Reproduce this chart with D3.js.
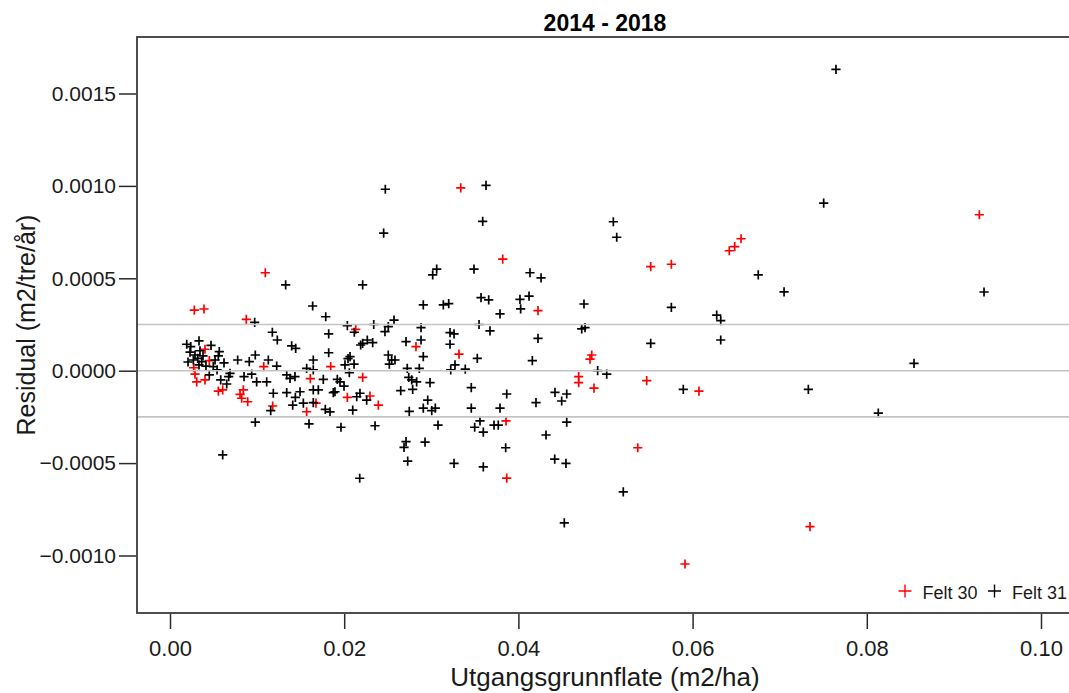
<!DOCTYPE html>
<html>
<head>
<meta charset="utf-8">
<script src="https://cdn.jsdelivr.net/npm/d3@7"></script>
<style>
  html, body { margin: 0; padding: 0; background: #fff; }
  svg { display: block; font-family: "Liberation Sans", Arial, sans-serif; }
</style>
</head>
<body>
<svg id="chart" width="1069" height="693"></svg>
<script>
// Residuals of basal-area growth per tree against initial basal area, 2014 - 2018
const title = "2014 - 2018";
const xLabel = "Utgangsgrunnflate (m2/ha)";
const yLabel = "Residual (m2/tre/år)";

const xTicks = [0.00, 0.02, 0.04, 0.06, 0.08, 0.10];
const yTicks = [-0.0010, -0.0005, 0.0000, 0.0005, 0.0010, 0.0015];
const refLines = [0.00025, 0, -0.00025];

// Felt 30 [x, residual]
const felt30 = [
  [0.00279, 0.000328], [0.00390, 0.000334], [0.01094, 0.000530], [0.00876, 0.000278],
  [0.00402, 0.000116], [0.00451, 0.000054], [0.00272, 0.000016], [0.00287, -0.000019],
  [0.00307, -0.000061], [0.00402, -0.000050], [0.01076, 0.000022], [0.01845, 0.000022],
  [0.01611, -0.000043], [0.00555, -0.000110], [0.00605, -0.000104], [0.00804, -0.000128],
  [0.00842, -0.000104], [0.00823, -0.000149], [0.00892, -0.000168], [0.01179, -0.000191],
  [0.01569, -0.000222], [0.02036, -0.000144], [0.01676, -0.000176], [0.03338, 0.000989],
  [0.03820, 0.000604], [0.04225, 0.000325], [0.02132, 0.000224], [0.02824, 0.000130],
  [0.03318, 0.000090], [0.02212, -0.000036], [0.02296, -0.000137], [0.02392, -0.000186],
  [0.03858, -0.000271], [0.03866, -0.000581], [0.06556, 0.000714], [0.06483, 0.000671],
  [0.06421, 0.000649], [0.05519, 0.000563], [0.05756, 0.000576], [0.04842, 0.000085],
  [0.04822, 0.000063], [0.04692, -0.000032], [0.04692, -0.000065], [0.04868, -0.000094],
  [0.05473, -0.000054], [0.06073, -0.000110], [0.05370, -0.000417], [0.05913, -0.001046],
  [0.07348, -0.000844], [0.09292, 0.000844]
];

// Felt 31 [x, residual]
const felt31 = [
  [0.07646, 0.001631], [0.07505, 0.000907], [0.09346, 0.000426], [0.07050, 0.000427],
  [0.06754, 0.000518], [0.08542, 0.000040], [0.07329, -0.000101], [0.08132, -0.000230],
  [0.06277, 0.000301], [0.06323, 0.000271], [0.06323, 0.000166], [0.05756, 0.000343],
  [0.05519, 0.000148], [0.05893, -0.000101], [0.05090, 0.000806], [0.05129, 0.000722],
  [0.04753, 0.000361], [0.04727, 0.000226], [0.04765, 0.000233], [0.04910, 0.000000],
  [0.05014, -0.000019], [0.04420, -0.000117], [0.04555, -0.000126], [0.04497, -0.000164],
  [0.04555, -0.000278], [0.04317, -0.000348], [0.04417, -0.000479], [0.04546, -0.000501],
  [0.05204, -0.000656], [0.04527, -0.000823], [0.04202, -0.000173], [0.04160, 0.000055],
  [0.04225, 0.000175], [0.04133, 0.000530], [0.04260, 0.000502], [0.04122, 0.000404],
  [0.04018, 0.000386], [0.04026, 0.000335], [0.03789, 0.000307], [0.03674, 0.000215],
  [0.03548, 0.000250], [0.02339, 0.000250], [0.03571, 0.000395], [0.03659, 0.000383],
  [0.03490, 0.000550], [0.03628, 0.001003], [0.03590, 0.000808], [0.02472, 0.000982],
  [0.02453, 0.000744], [0.03062, 0.000550], [0.03016, 0.000518], [0.02212, 0.000464],
  [0.02908, 0.000356], [0.03138, 0.000356], [0.03200, 0.000363], [0.02572, 0.000274],
  [0.02036, 0.000244], [0.02116, 0.000208], [0.02468, 0.000211], [0.02506, 0.000238],
  [0.02882, 0.000233], [0.02882, 0.000166], [0.02710, 0.000157], [0.02212, 0.000148],
  [0.02265, 0.000166], [0.02327, 0.000152], [0.02189, 0.000139], [0.03215, 0.000206],
  [0.03261, 0.000199], [0.03215, 0.000143], [0.02908, 0.000076], [0.02506, 0.000085],
  [0.02067, 0.000076], [0.03528, 0.000067], [0.01822, 0.000199], [0.01822, 0.000097],
  [0.02044, 0.000065], [0.01328, 0.000464], [0.01638, 0.000350], [0.01788, 0.000292],
  [0.00972, 0.000262], [0.01175, 0.000208], [0.01232, 0.000166], [0.01397, 0.000134],
  [0.01443, 0.000121], [0.02059, -0.000011], [0.02009, 0.000031], [0.02113, 0.000036],
  [0.02545, 0.000058], [0.02518, 0.000036], [0.02583, 0.000058], [0.02724, 0.000013],
  [0.02862, 0.000013], [0.03223, 0.000004], [0.03272, 0.000031], [0.03390, 0.000008],
  [0.01921, -0.000047], [0.01952, -0.000060], [0.01998, -0.000083], [0.01894, -0.000114],
  [0.01875, -0.000119], [0.02144, -0.000141], [0.02181, -0.000122], [0.02258, -0.000159],
  [0.02098, -0.000213], [0.01837, -0.000223], [0.01783, -0.000209], [0.02741, -0.000036],
  [0.02775, -0.000050], [0.02832, -0.000060], [0.02649, -0.000108], [0.02786, -0.000101],
  [0.02985, -0.000065], [0.02959, -0.000159], [0.02908, -0.000203], [0.03005, -0.000216],
  [0.03046, -0.000203], [0.02747, -0.000220], [0.03459, -0.000092], [0.03866, -0.000126],
  [0.03459, -0.000203], [0.03789, -0.000203], [0.01963, -0.000306], [0.02354, -0.000298],
  [0.03077, -0.000295], [0.03559, -0.000271], [0.03498, -0.000306], [0.03597, -0.000332],
  [0.03720, -0.000295], [0.03769, -0.000294], [0.02710, -0.000384], [0.02687, -0.000415],
  [0.02928, -0.000387], [0.03854, -0.000417], [0.02729, -0.000489], [0.03261, -0.000501],
  [0.03597, -0.000520], [0.02178, -0.000582], [0.01645, 0.000058], [0.01569, 0.000013],
  [0.01645, 0.000004], [0.01760, -0.000047], [0.01645, -0.000104], [0.01703, -0.000104],
  [0.01156, -0.000216], [0.01596, -0.000288], [0.00979, -0.000278], [0.00605, -0.000456],
  [0.01340, -0.000023], [0.01378, -0.000041], [0.01435, -0.000032], [0.01340, -0.000119],
  [0.01493, -0.000114], [0.01439, -0.000144], [0.01409, -0.000186], [0.01531, -0.000176],
  [0.01645, -0.000173], [0.01186, -0.000122], [0.00674, -0.000032], [0.00651, -0.000072],
  [0.00850, -0.000032], [0.00938, -0.000019], [0.00995, -0.000061], [0.01110, -0.000060],
  [0.00689, -0.000014], [0.00777, 0.000058], [0.00910, 0.000049], [0.00979, 0.000085],
  [0.01129, 0.000058], [0.01225, 0.000025], [0.00582, -0.000050], [0.00192, 0.000143],
  [0.00238, 0.000130], [0.00333, 0.000161], [0.00471, 0.000137], [0.00344, 0.000108],
  [0.00566, 0.000103], [0.00555, 0.000080], [0.00268, 0.000058], [0.00318, 0.000067],
  [0.00364, 0.000049], [0.00497, 0.000022], [0.00333, 0.000031], [0.00413, 0.000025],
  [0.00451, -0.000023], [0.00230, 0.000101], [0.00287, 0.000085], [0.00379, 0.000080],
  [0.00207, 0.000047], [0.00517, 0.000058], [0.00620, 0.000042], [0.00540, 0.000004]
];

const series = [
  { name: "Felt 30", color: "#ff0000", data: felt30 },
  { name: "Felt 31", color: "#000000", data: felt31 }
];

const svg = d3.select("#chart");
const frame = { left: 137, right: 1073, top: 37, bottom: 613 };

const x = d3.scaleLinear().domain([0, 0.10]).range([170, 1041]);
const y = d3.scaleLinear().domain([0, 0.001]).range([370.7, 185.9]);

const textColor = "#1a1a1a";
const plus = s => `M${-s},0H${s}M0,${-s}V${s}`;

// points, clipped to the plot frame
svg.append("clipPath").attr("id", "plotClip")
  .append("rect")
  .attr("x", frame.left).attr("y", frame.top)
  .attr("width", frame.right - frame.left).attr("height", frame.bottom - frame.top);

const pts = svg.append("g").attr("clip-path", "url(#plotClip)");
series.forEach(s => {
  pts.append("g")
    .selectAll("path")
    .data(s.data)
    .join("path")
    .attr("transform", d => `translate(${x(d[0])},${y(d[1])})`)
    .attr("d", plus(4.6))
    .attr("fill", "none")
    .attr("stroke", s.color)
    .attr("stroke-width", 1.7);
});

// reference lines at 0 and ±0.00025
svg.append("g")
  .selectAll("line")
  .data(refLines)
  .join("line")
  .attr("x1", frame.left).attr("x2", frame.right)
  .attr("y1", d => y(d)).attr("y2", d => y(d))
  .attr("stroke", "#c4c4c4")
  .attr("stroke-width", 1.6);

// frame
svg.append("rect")
  .attr("x", frame.left).attr("y", frame.top)
  .attr("width", frame.right - frame.left).attr("height", frame.bottom - frame.top)
  .attr("fill", "none")
  .attr("stroke", "#3a3a3a")
  .attr("stroke-width", 1.8);

// y axis
const yAxis = svg.append("g")
  .attr("transform", `translate(${frame.left - 1},0)`)
  .call(d3.axisLeft(y).tickValues(yTicks).tickSize(17).tickSizeOuter(0).tickPadding(3)
    .tickFormat(d3.format(".4f")));
yAxis.select(".domain").remove();
yAxis.selectAll(".tick line").attr("stroke", "#2a2a2a").attr("stroke-width", 1.5);
yAxis.selectAll(".tick text")
  .attr("fill", textColor)
  .style("font-size", "21px")
  .style("font-family", "'Liberation Sans', Arial, sans-serif");

// x axis
const xAxis = svg.append("g")
  .attr("transform", `translate(0,${frame.bottom + 1})`)
  .call(d3.axisBottom(x).tickValues(xTicks).tickSize(15).tickSizeOuter(0).tickPadding(11)
    .tickFormat(d3.format(".2f")));
xAxis.select(".domain").remove();
xAxis.selectAll(".tick line").attr("stroke", "#2a2a2a").attr("stroke-width", 1.5);
xAxis.selectAll(".tick text")
  .attr("fill", textColor)
  .style("font-size", "22px")
  .style("font-family", "'Liberation Sans', Arial, sans-serif");

// title
svg.append("text")
  .attr("x", (frame.left + frame.right) / 2)
  .attr("y", 31)
  .attr("text-anchor", "middle")
  .attr("fill", "#000")
  .style("font-size", "23px")
  .style("font-weight", "bold")
  .text(title);

// axis titles
svg.append("text")
  .attr("x", 605)
  .attr("y", 686)
  .attr("text-anchor", "middle")
  .attr("fill", textColor)
  .style("font-size", "26px")
  .text(xLabel);

svg.append("text")
  .attr("transform", `translate(35,${(frame.top + frame.bottom) / 2}) rotate(-90)`)
  .attr("text-anchor", "middle")
  .attr("fill", textColor)
  .style("font-size", "25px")
  .text(yLabel);

// legend
const legend = svg.append("g").attr("transform", "translate(905,591)");
const legendX = [0, 89.5];
series.forEach((s, i) => {
  const g = legend.append("g").attr("transform", `translate(${legendX[i]},0)`);
  g.append("path").attr("d", plus(6.5)).attr("fill", "none")
    .attr("stroke", s.color).attr("stroke-width", 1.4);
  g.append("text").attr("x", 17.5).attr("y", 7.5)
    .attr("fill", textColor)
    .style("font-size", "18px")
    .text(s.name);
});
</script>
</body>
</html>
